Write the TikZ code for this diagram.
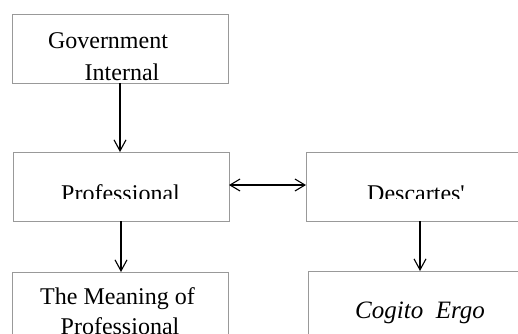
\documentclass[tikz,border=0pt]{standalone}
\usepackage{fontspec}
\setmainfont{Liberation Serif}
\usetikzlibrary{arrows.meta}

\begin{document}
\begin{tikzpicture}[x=1pt, y=-1pt,
  caja/.style={draw=gray!80, line width=0.9pt, minimum width=216pt, minimum height=69pt, inner sep=0pt, outer sep=0pt},
  txt/.style={anchor=base, inner sep=0pt, font=\fontsize{24}{28}\selectfont},
  flecha/.style={-{Straight Barb[length=11pt, width=12pt]}, line width=1.1pt},
  doble/.style={{Straight Barb[length=10pt, width=12pt]}-{Straight Barb[length=10pt, width=12pt]}, line width=1.1pt}]
\useasboundingbox (0,0) rectangle (518,333);
\node[caja] (gob) at (120,48.5) {};
\node[caja] (prof) at (121,186.5) {};
\node[caja, minimum width=228pt] (desc) at (420,186.5) {};
\node[caja] (sig) at (120,306.5) {};
\node[caja, minimum width=228pt] (cog) at (422,305.5) {};

\begin{scope}
  \clip (gob.north west) rectangle (gob.south east);
  \node[txt] (gob1) at (108,48) {Government};
  \node[txt] (gob2) at (122,80) {Internal};
\end{scope}
\begin{scope}
  \clip (prof.north west) rectangle (prof.east |- 0,198);
  \node[txt] (prof1) at (120.5,201) {Professional};
\end{scope}
\begin{scope}
  \clip (desc.north west) rectangle (desc.east |- 0,198);
  \node[txt] (desc1) at (416,201) {Descartes\textquotesingle};
\end{scope}
\node[txt] (sig1) at (117.5,304) {The Meaning of};
\node[txt] (sig2) at (120,334) {Professional};
\node[txt, font=\fontsize{25}{30}\selectfont\itshape] (cog1) at (420,318) {Cogito\ \ Ergo};

\draw[flecha] (gob.south) -- (gob.south |- prof.north);
\draw[flecha] (prof.south) -- (prof.south |- sig.north);
\draw[flecha] (desc.south) -- (desc.south |- cog.north);
\draw[doble] ([yshift=1.5pt]prof.east) -- ([yshift=1.5pt]desc.west);
\end{tikzpicture}
\end{document}
